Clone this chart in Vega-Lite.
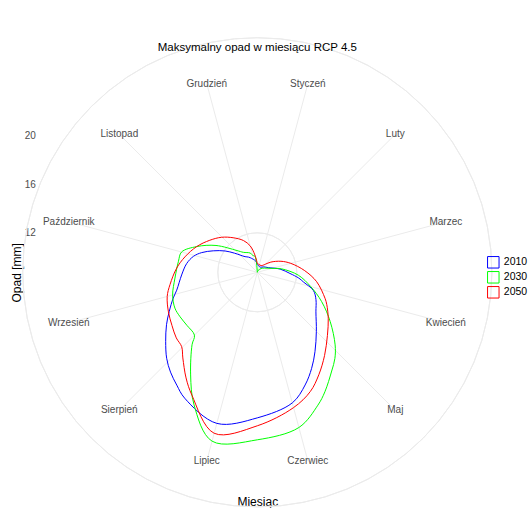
{
  "$schema": "https://vega.github.io/schema/vega-lite/v6.json",
  "width": 434,
  "height": 434,
  "autosize": {"type": "none"},
  "padding": {"left": 40.3, "top": 55.3, "right": 57.7, "bottom": 18.7},
  "background": "white",
  "config": {"view": {"stroke": null}, "font": "Liberation Sans"},
  "datasets": {
    "opad": [
      {"rok": "2010", "kat": 0, "opad": 9.4},
      {"rok": "2010", "kat": 30, "opad": 9.25},
      {"rok": "2010", "kat": 50, "opad": 9.45},
      {"rok": "2010", "kat": 67, "opad": 9.74},
      {"rok": "2010", "kat": 82, "opad": 10.65},
      {"rok": "2010", "kat": 92, "opad": 11.44},
      {"rok": "2010", "kat": 98, "opad": 12.2},
      {"rok": "2010", "kat": 102, "opad": 12.65},
      {"rok": "2010", "kat": 108, "opad": 13.6},
      {"rok": "2010", "kat": 115, "opad": 14.07},
      {"rok": "2010", "kat": 124, "opad": 14.56},
      {"rok": "2010", "kat": 135, "opad": 15.61},
      {"rok": "2010", "kat": 144, "opad": 16.81},
      {"rok": "2010", "kat": 150.5, "opad": 17.81},
      {"rok": "2010", "kat": 157, "opad": 18.8},
      {"rok": "2010", "kat": 165, "opad": 19.85},
      {"rok": "2010", "kat": 180, "opad": 20.7},
      {"rok": "2010", "kat": 195, "opad": 21.59},
      {"rok": "2010", "kat": 210, "opad": 20.68},
      {"rok": "2010", "kat": 215.5, "opad": 20.13},
      {"rok": "2010", "kat": 221, "opad": 19.61},
      {"rok": "2010", "kat": 226.5, "opad": 19.01},
      {"rok": "2010", "kat": 233, "opad": 18.17},
      {"rok": "2010", "kat": 240, "opad": 17.36},
      {"rok": "2010", "kat": 246, "opad": 16.67},
      {"rok": "2010", "kat": 253, "opad": 15.97},
      {"rok": "2010", "kat": 257.5, "opad": 15.53},
      {"rok": "2010", "kat": 268, "opad": 14.97},
      {"rok": "2010", "kat": 277, "opad": 14.6},
      {"rok": "2010", "kat": 284, "opad": 14.16},
      {"rok": "2010", "kat": 289.5, "opad": 13.6},
      {"rok": "2010", "kat": 296, "opad": 12.78},
      {"rok": "2010", "kat": 303.5, "opad": 11.93},
      {"rok": "2010", "kat": 310, "opad": 11.2},
      {"rok": "2010", "kat": 322, "opad": 10.39},
      {"rok": "2010", "kat": 330, "opad": 10.2},
      {"rok": "2010", "kat": 338, "opad": 9.99},
      {"rok": "2010", "kat": 343, "opad": 9.87},
      {"rok": "2010", "kat": 352, "opad": 9.7},
      {"rok": "2010", "kat": 360, "opad": 9.4},

      {"rok": "2030", "kat": 0, "opad": 8.76},
      {"rok": "2030", "kat": 20, "opad": 8.9},
      {"rok": "2030", "kat": 45, "opad": 9.2},
      {"rok": "2030", "kat": 60, "opad": 9.45},
      {"rok": "2030", "kat": 75, "opad": 10.0},
      {"rok": "2030", "kat": 82, "opad": 10.78},
      {"rok": "2030", "kat": 94, "opad": 12.13},
      {"rok": "2030", "kat": 105, "opad": 13.3},
      {"rok": "2030", "kat": 114.5, "opad": 14.56},
      {"rok": "2030", "kat": 124, "opad": 15.97},
      {"rok": "2030", "kat": 133, "opad": 17.49},
      {"rok": "2030", "kat": 138, "opad": 18.27},
      {"rok": "2030", "kat": 143, "opad": 18.9},
      {"rok": "2030", "kat": 150.5, "opad": 20.02},
      {"rok": "2030", "kat": 155.5, "opad": 20.74},
      {"rok": "2030", "kat": 165, "opad": 21.94},
      {"rok": "2030", "kat": 180, "opad": 22.5},
      {"rok": "2030", "kat": 195, "opad": 23.1},
      {"rok": "2030", "kat": 205.5, "opad": 20.81},
      {"rok": "2030", "kat": 213, "opad": 18.8},
      {"rok": "2030", "kat": 222, "opad": 16.76},
      {"rok": "2030", "kat": 225, "opad": 16.05},
      {"rok": "2030", "kat": 233, "opad": 15.99},
      {"rok": "2030", "kat": 240, "opad": 16.07},
      {"rok": "2030", "kat": 246.5, "opad": 16.13},
      {"rok": "2030", "kat": 255, "opad": 15.95},
      {"rok": "2030", "kat": 266, "opad": 15.53},
      {"rok": "2030", "kat": 278, "opad": 15.29},
      {"rok": "2030", "kat": 285, "opad": 15.19},
      {"rok": "2030", "kat": 293, "opad": 14.16},
      {"rok": "2030", "kat": 303, "opad": 12.8},
      {"rok": "2030", "kat": 317, "opad": 11.2},
      {"rok": "2030", "kat": 325, "opad": 10.76},
      {"rok": "2030", "kat": 339.5, "opad": 10.45},
      {"rok": "2030", "kat": 345, "opad": 10.2},
      {"rok": "2030", "kat": 352, "opad": 10.06},
      {"rok": "2030", "kat": 360, "opad": 8.76},

      {"rok": "2050", "kat": 0, "opad": 9.5},
      {"rok": "2050", "kat": 30, "opad": 9.4},
      {"rok": "2050", "kat": 45, "opad": 9.7},
      {"rok": "2050", "kat": 53, "opad": 10.15},
      {"rok": "2050", "kat": 65, "opad": 10.9},
      {"rok": "2050", "kat": 75, "opad": 11.6},
      {"rok": "2050", "kat": 88, "opad": 12.65},
      {"rok": "2050", "kat": 99, "opad": 13.69},
      {"rok": "2050", "kat": 111, "opad": 14.71},
      {"rok": "2050", "kat": 115, "opad": 15.05},
      {"rok": "2050", "kat": 123, "opad": 15.7},
      {"rok": "2050", "kat": 132, "opad": 16.5},
      {"rok": "2050", "kat": 141, "opad": 17.53},
      {"rok": "2050", "kat": 149, "opad": 18.56},
      {"rok": "2050", "kat": 156, "opad": 19.46},
      {"rok": "2050", "kat": 165, "opad": 20.25},
      {"rok": "2050", "kat": 180, "opad": 21.35},
      {"rok": "2050", "kat": 195, "opad": 22.43},
      {"rok": "2050", "kat": 208, "opad": 20.18},
      {"rok": "2050", "kat": 214, "opad": 19.21},
      {"rok": "2050", "kat": 221, "opad": 18.07},
      {"rok": "2050", "kat": 225.5, "opad": 17.46},
      {"rok": "2050", "kat": 231, "opad": 17.31},
      {"rok": "2050", "kat": 238, "opad": 17.01},
      {"rok": "2050", "kat": 246, "opad": 16.74},
      {"rok": "2050", "kat": 255, "opad": 16.41},
      {"rok": "2050", "kat": 262, "opad": 15.99},
      {"rok": "2050", "kat": 273, "opad": 15.38},
      {"rok": "2050", "kat": 282, "opad": 14.83},
      {"rok": "2050", "kat": 293, "opad": 14.16},
      {"rok": "2050", "kat": 304, "opad": 13.46},
      {"rok": "2050", "kat": 314.5, "opad": 12.86},
      {"rok": "2050", "kat": 325, "opad": 12.22},
      {"rok": "2050", "kat": 336.5, "opad": 11.6},
      {"rok": "2050", "kat": 345, "opad": 11.0},
      {"rok": "2050", "kat": 352, "opad": 10.2},
      {"rok": "2050", "kat": 360, "opad": 9.5}
    ],
    "miesiace": [
      {"miesiac": "Styczeń", "kat": 15},
      {"miesiac": "Luty", "kat": 45},
      {"miesiac": "Marzec", "kat": 75},
      {"miesiac": "Kwiecień", "kat": 105},
      {"miesiac": "Maj", "kat": 135},
      {"miesiac": "Czerwiec", "kat": 165},
      {"miesiac": "Lipiec", "kat": 195},
      {"miesiac": "Sierpień", "kat": 225},
      {"miesiac": "Wrzesień", "kat": 255},
      {"miesiac": "Październik", "kat": 285},
      {"miesiac": "Listopad", "kat": 315},
      {"miesiac": "Grudzień", "kat": 345}
    ],
    "okregi": [
      {"r": 12},
      {"r": 16},
      {"r": 20},
      {"r": 24.77}
    ],
    "tytul": [
      {"tekst": "Maksymalny opad w miesiącu  RCP 4.5"}
    ]
  },
  "layer": [
    {
      "description": "Radial grid circles at the axis breaks plus the outer rim",
      "data": {"name": "okregi"},
      "mark": {"type": "arc", "filled": false, "stroke": "#ebebeb", "strokeWidth": 1, "theta": 0, "theta2": 6.2832},
      "encoding": {
        "radius": {"field": "r", "type": "quantitative", "scale": {"type": "linear", "domain": [8.76, 24.77], "range": [0, 195.2], "zero": false}}
      }
    },
    {
      "encoding": {
        "x": {
          "field": "x", "type": "quantitative",
          "scale": {"domain": [-17.8, 17.8], "nice": false, "zero": false},
          "axis": {"title": "Miesiąc", "labels": false, "ticks": false, "domain": false, "grid": false, "titleFontSize": 12, "titleFontWeight": "normal", "titleColor": "#000000", "titlePadding": 7}
        },
        "y": {
          "field": "y", "type": "quantitative",
          "scale": {"domain": [-9.04, 26.56], "nice": false, "zero": false},
          "axis": {"title": "Opad [mm]", "values": [12, 16, 20], "grid": false, "ticks": false, "tickSize": 0, "domain": false, "labelColor": "#4d4d4d", "labelFontSize": 10, "labelPadding": 5, "titleFontSize": 12, "titleFontWeight": "normal", "titleColor": "#000000", "titlePadding": 1}
        }
      },
      "layer": [
        {
          "description": "Month spokes from the centre to the rim",
          "data": {"name": "miesiace"},
          "transform": [
            {"calculate": "16.01 * sin(datum.kat * PI / 180)", "as": "x"},
            {"calculate": "8.76 + 16.01 * cos(datum.kat * PI / 180)", "as": "y"},
            {"calculate": "0", "as": "x0"},
            {"calculate": "8.76", "as": "y0"}
          ],
          "mark": {"type": "rule", "stroke": "#ebebeb", "strokeWidth": 1},
          "encoding": {
            "x2": {"field": "x0"},
            "y2": {"field": "y0"}
          }
        },
        {
          "description": "Monthly maximum precipitation per scenario year, polar to cartesian",
          "data": {"name": "opad"},
          "transform": [
            {"calculate": "(datum.opad - 8.76) * sin(datum.kat * PI / 180)", "as": "x"},
            {"calculate": "8.76 + (datum.opad - 8.76) * cos(datum.kat * PI / 180)", "as": "y"}
          ],
          "mark": {"type": "line", "strokeWidth": 1, "interpolate": "catmull-rom"},
          "encoding": {
            "order": {"field": "kat", "type": "quantitative"},
            "color": {
              "field": "rok", "type": "nominal",
              "scale": {"domain": ["2010", "2030", "2050"], "range": ["#0000ff", "#00ff00", "#ff0000"]},
              "legend": {
                "title": null, "orient": "none", "legendX": 446.5, "legendY": 200.5,
                "symbolType": "square", "symbolSize": 132, "symbolStrokeWidth": 1, "symbolFillColor": "transparent",
                "labelFontSize": 10.5, "labelColor": "#000000", "rowPadding": -5, "labelOffset": 4
              }
            }
          }
        },
        {
          "description": "Month names on the rim",
          "data": {"name": "miesiace"},
          "transform": [
            {"calculate": "16.01 * sin(datum.kat * PI / 180)", "as": "x"},
            {"calculate": "8.76 + 16.01 * cos(datum.kat * PI / 180)", "as": "y"}
          ],
          "mark": {"type": "text", "fontSize": 10, "color": "#4d4d4d", "align": "center", "baseline": "middle"},
          "encoding": {
            "text": {"field": "miesiac"}
          }
        },
        {
          "description": "Chart heading, centred above the polar panel",
          "data": {"name": "tytul"},
          "transform": [
            {"calculate": "0", "as": "x"},
            {"calculate": "26.95", "as": "y"}
          ],
          "mark": {"type": "text", "fontSize": 11.5, "color": "#000000", "align": "center", "baseline": "alphabetic"},
          "encoding": {
            "text": {"field": "tekst"}
          }
        }
      ]
    }
  ]
}
